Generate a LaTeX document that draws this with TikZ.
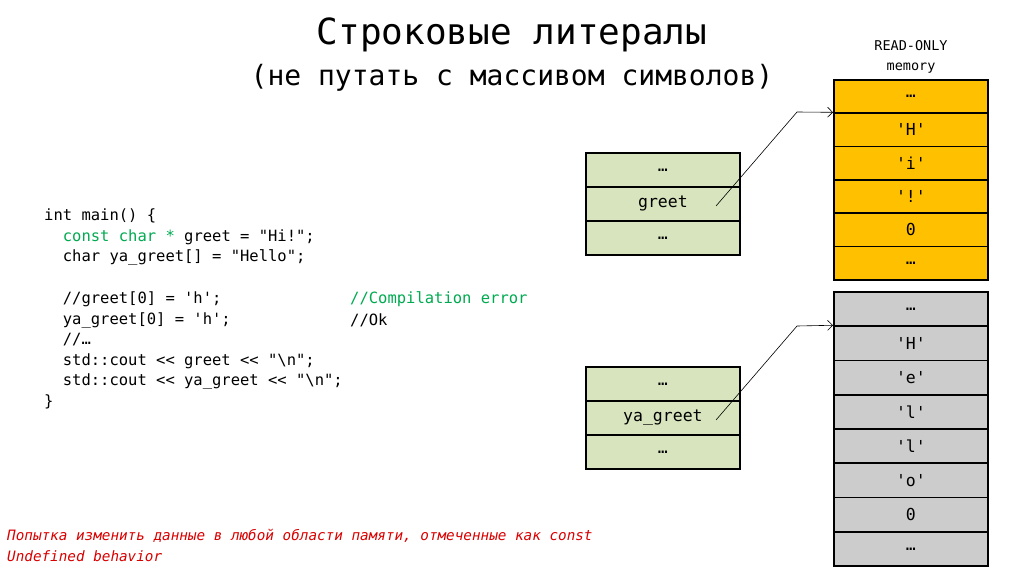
\documentclass[tikz,border=0pt]{standalone}
\usepackage{fontspec}
\setmonofont{DejaVu Sans Mono}
\renewcommand*\familydefault{\ttdefault}
\usetikzlibrary{arrows.meta}
\begin{document}
\normalfont
\begin{tikzpicture}[x=1pt,y=-1pt,
  cell/.style={draw=black,line width=1.8pt,minimum width=154pt,anchor=north west,inner sep=0pt,font=\fontsize{16.5}{16}\selectfont},
  code/.style={anchor=west,inner sep=0pt,font=\fontsize{15.5}{16}\selectfont},
  ptr/.style={-{Straight Barb[length=5pt]},line width=0.6pt}]
\useasboundingbox (0,0) rectangle (1024,576);
\definecolor{og}{RGB}{255,192,0}
\definecolor{gr}{RGB}{215,228,189}
\node (t1) at (512,35) {\fontsize{36}{38}\selectfont Строковые литералы};
\node (t2) at (512,78) {\fontsize{28}{30}\selectfont (не путать с массивом символов)};
\node[align=center,font=\fontsize{13.5}{20}\selectfont] (ro) at (911,57) {READ-ONLY\\memory};
% orange column
\foreach \t [count=\i] in {…,'H','i','!',0,…}{
  \pgfmathsetmacro\yy{79+(\i-1)*33.3}
  \node[cell,fill=og,minimum height=33.3pt] (o\i) at (833,\yy) {\t};
}
% gray column
\foreach \t [count=\i] in {…,'H','e','l','l','o',0,…}{
  \pgfmathsetmacro\yy{291+(\i-1)*34.25}
  \node[cell,fill=black!20,minimum height=34.25pt] (g\i) at (833,\yy) {\t};
}
% green boxes
\foreach \t [count=\i] in {…,greet,…}{
  \pgfmathsetmacro\yy{152+(\i-1)*34}
  \node[cell,fill=gr,minimum height=34pt] (a\i) at (585,\yy) {\t};
}
\foreach \t [count=\i] in {…,ya\_greet,…}{
  \pgfmathsetmacro\yy{366+(\i-1)*34}
  \node[cell,fill=gr,minimum height=34pt] (b\i) at (585,\yy) {\t};
}
\coordinate (pa) at (716,206);
\coordinate (pb) at (716,420);
\draw[ptr] (pa) -- (797,112) -- (o2.north west);
\draw[ptr] (pb) -- (797,326) -- (g2.north west);
% code
\definecolor{cg}{RGB}{0,170,80}
\node[code] (c1) at (44,216) {int main() \{};
\node[code] (c2) at (44,237) {\ \ \textcolor{cg}{const char *} greet = "Hi!";};
\node[code] (c3) at (44,257) {\ \ char ya\_greet[] = "Hello";};
\node[code] (c4) at (44,299) {\ \ //greet[0] = 'h';};
\node[code] (c5) at (44,320) {\ \ ya\_greet[0] = 'h';};
\node[code] (c6) at (44,340) {\ \ //…};
\node[code] (c7) at (44,361) {\ \ std::cout <{}< greet <{}< "\textbackslash n";};
\node[code] (c8) at (44,381) {\ \ std::cout <{}< ya\_greet <{}< "\textbackslash n";};
\node[code] (c9) at (44,402) {\}};
\node[code,text=cg] (k1) at (350,299) {//Compilation error};
\node[code] (k2) at (350,320) {//Ok};
\node[code,text=red!85!black,font=\fontsize{14.3}{15}\selectfont\itshape] (r1) at (7,536) {Попытка изменить данные в любой области памяти, отмеченные как const};
\node[code,text=red!85!black,font=\fontsize{14.3}{15}\selectfont\itshape] (r2) at (7,556) {Undefined behavior};
\end{tikzpicture}
\end{document}
